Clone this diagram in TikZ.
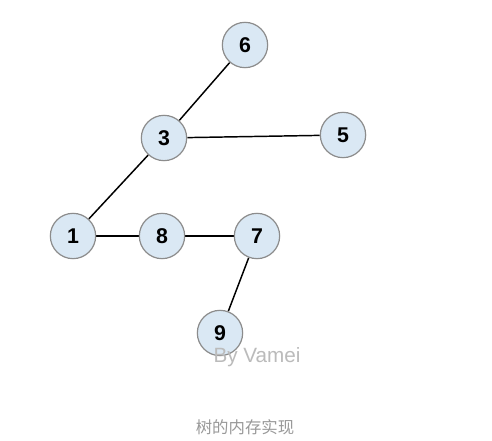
\documentclass[tikz,border=0pt]{standalone}
\usepackage{fontspec}
\usetikzlibrary{backgrounds}
\setmainfont{Liberation Sans}
\newfontfamily\cjk{Noto Sans CJK SC}
\definecolor{nodefill}{HTML}{DAE8F4}
\definecolor{nodeborder}{HTML}{8C8C8C}
\definecolor{wm}{HTML}{BBBBBB}
\definecolor{cap}{HTML}{999999}
\begin{document}
\begin{tikzpicture}[x=0.75pt,y=-0.75pt,
  tnode/.style={circle,draw=nodeborder,line width=0.9pt,fill=nodefill,minimum size=34pt,inner sep=0pt,font=\bfseries\fontsize{16}{16}\selectfont},
  edge/.style={line width=1.1pt,black}]
\useasboundingbox (0,0) rectangle (492,441);
\node[tnode] (n6) at (245,45) {6};
\node[tnode] (n3) at (164,138) {3};
\node[tnode] (n5) at (343,135) {5};
\node[tnode] (n1) at (73,236) {1};
\node[tnode] (n8) at (162,236) {8};
\node[tnode] (n7) at (257,236) {7};
\node[tnode] (n9) at (220,333) {9};
\begin{scope}[on background layer]
\fill[white] (0,0) rectangle (492,441);
\draw[edge] (n3) -- (n6);
\draw[edge] (n3) -- (n5);
\draw[edge] (n3) -- (n1);
\draw[edge] (n1) -- (n8);
\draw[edge] (n8) -- (n7);
\draw[edge] (n7) -- (n9);
\end{scope}
\node[text=wm,font=\fontsize{15.5}{15.5}\selectfont] (wm) at (257,357) {By Vamei};
\node[text=cap,font=\cjk\fontsize{12.3}{12.3}\selectfont] (cap) at (245,427) {树的内存实现};
\end{tikzpicture}
\end{document}
